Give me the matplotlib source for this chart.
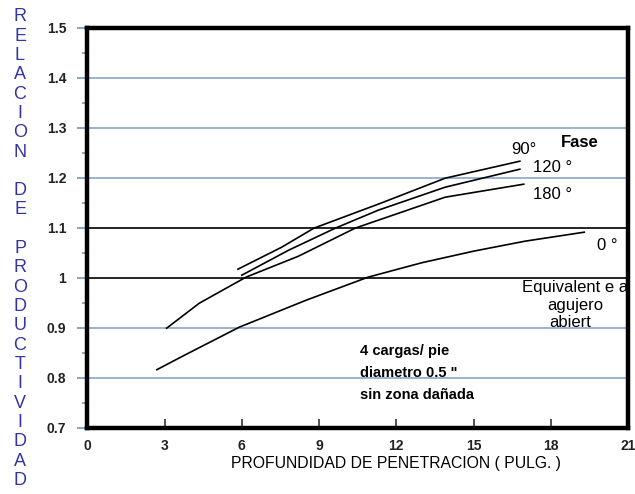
import matplotlib
matplotlib.use('Agg')
import matplotlib.pyplot as plt
import numpy as np

# datos (profundidad en pulgadas, relacion de productividad)
x_90 = [5.85, 7.55, 8.8, 11.4, 13.9, 16.8]
y_90 = [1.017, 1.061, 1.099, 1.149, 1.199, 1.233]

x_120 = [6.0, 7.82, 9.63, 11.3, 13.9, 16.8]
y_120 = [1.005, 1.055, 1.099, 1.135, 1.181, 1.217]

x_180 = [3.08, 4.35, 6.16, 8.2, 10.4, 11.3, 13.9, 16.95]
y_180 = [0.899, 0.949, 1.001, 1.043, 1.099, 1.115, 1.161, 1.187]

x_0 = [2.7, 3.7, 5.9, 8.5, 10.9, 13.0, 15.0, 17.0, 19.3]
y_0 = [0.816, 0.843, 0.901, 0.955, 1.001, 1.030, 1.053, 1.073, 1.091]

x_ticks = [0, 3, 6, 9, 12, 15, 18, 21]
y_ticks = [0.7, 0.8, 0.9, 1.0, 1.1, 1.2, 1.3, 1.4, 1.5]
y_tick_labels = ['0.7', '0.8', '0.9', '1', '1.1', '1.2', '1.3', '1.4', '1.5']
blue_lines = [0.8, 0.9, 1.2, 1.3, 1.4]
black_lines = [1.0, 1.1]

arial = ['Liberation Sans', 'DejaVu Sans']
plt.rcParams['font.family'] = arial

fig = plt.figure(figsize=(6.35, 4.94), dpi=100)
ax = fig.add_axes([0.1375, 0.1342, 0.8515, 0.8098])

for y in blue_lines:
    ax.axhline(y=y, color='#7f9cc6', lw=1.1, zorder=1)
for y in black_lines:
    ax.axhline(y=y, color='black', lw=1.2, zorder=1)

for xs, ys in [(x_90, y_90), (x_120, y_120), (x_180, y_180), (x_0, y_0)]:
    ax.plot(xs, ys, color='black', lw=1.2, zorder=3)

ax.set_xlim(0, 21)
ax.set_ylim(0.7, 1.5)
ax.set_xticks(x_ticks)
ax.set_xticklabels([str(t) for t in x_ticks])
ax.set_yticks(y_ticks)
ax.set_yticklabels(y_tick_labels)
ax.set_yticks(np.arange(0.75, 1.5, 0.1), minor=True)

ax.tick_params(axis='y', which='major', direction='out', length=7.2, width=1.3,
               color='#7f9cc6', pad=8.0, labelsize=10, labelcolor='#222222')
ax.tick_params(axis='y', which='minor', direction='out', length=3.6, width=1.3,
               color='#7f9cc6')
ax.tick_params(axis='x', which='major', direction='in', length=6.5, width=1.3,
               color='#444444', pad=8.0, labelsize=10, labelcolor='#222222')
for lab in ax.get_xticklabels() + ax.get_yticklabels():
    lab.set_fontweight('bold')

for s in ax.spines.values():
    s.set_linewidth(3.2)
    s.set_color('black')

# etiquetas de las curvas
ax.text(16.45, 1.247, '90°', fontsize=12, ha='left', va='baseline')
ax.text(18.4, 1.261, 'Fase', fontsize=12, fontweight='bold', ha='left', va='baseline')
ax.text(17.3, 1.2105, '120 °', fontsize=12, ha='left', va='baseline')
ax.text(17.3, 1.158, '180 °', fontsize=12, ha='left', va='baseline')
ax.text(19.8, 1.056, '0 °', fontsize=12, ha='left', va='baseline')
ax.text(18.95, 0.971, 'Equivalent e a', fontsize=12, ha='center', va='baseline')
ax.text(18.95, 0.936, 'agujero', fontsize=12, ha='center', va='baseline')
ax.text(18.75, 0.901, 'abiert', fontsize=12, ha='center', va='baseline')

ax.text(10.6, 0.845, '4 cargas/ pie', fontsize=10.5, fontweight='bold', ha='left',
        va='baseline')
ax.text(10.6, 0.801, 'diametro 0.5 "', fontsize=10.5, fontweight='bold', ha='left',
        va='baseline')
ax.text(10.6, 0.758, 'sin zona dañada', fontsize=10.5, fontweight='bold', ha='left',
        va='baseline')

# titulo del eje x
fig.text(396 / 635, 1 - 463 / 494, 'PROFUNDIDAD DE PENETRACION ( PULG. )',
         fontsize=11.3, ha='center', va='center')

# titulo del eje y, una letra por renglon
ylabel = 'RELACION DE PRODUCTIVIDAD'
for i, ch in enumerate(ylabel):
    if ch == ' ':
        continue
    py = 16.7 + i * 19.33
    fig.text(20 / 635, 1 - py / 494, ch, fontsize=13, color='#3434a8',
             ha='center', va='center')

fig.savefig('out.png', dpi=100)
